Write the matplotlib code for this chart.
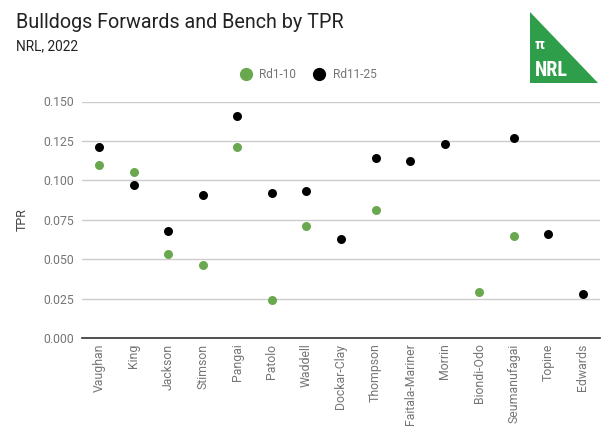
import matplotlib
matplotlib.use("Agg")
import matplotlib.pyplot as plt
import numpy as np
from matplotlib.patches import Polygon
from matplotlib.lines import Line2D

players = ["Vaughan", "King", "Jackson", "Stimson", "Pangai", "Patolo", "Waddell",
           "Dockar-Clay", "Thompson", "Faitala-Mariner", "Morrin", "Biondi-Odo",
           "Seumanufagai", "Topine", "Edwards"]
rd1_10 = [0.110, 0.105, 0.053, 0.046, 0.121, 0.024, 0.071,
          None, 0.081, None, None, 0.029, 0.065, None, None]
rd11_25 = [0.121, 0.097, 0.068, 0.091, 0.141, 0.092, 0.093,
           0.063, 0.114, 0.112, 0.123, None, 0.127, 0.066, 0.028]
series_names = ["Rd1-10", "Rd11-25"]
yticks = [0.0, 0.025, 0.05, 0.075, 0.1, 0.125, 0.15]

plt.rcParams['font.family'] = ['Roboto', 'DejaVu Sans']

W, H = 613, 438
fig = plt.figure(figsize=(W / 100, H / 100), dpi=100)
ax = fig.add_axes([82 / W, 1 - 338 / H, (600 - 82) / W, (338 - 101.5) / H])

x = np.arange(len(players))
g = np.array([np.nan if v is None else v for v in rd1_10], dtype=float)
b = np.array([np.nan if v is None else v for v in rd11_25], dtype=float)

green = "#6aa84f"
ax.scatter(x, g, s=42, color=green, zorder=3, label=series_names[0], linewidths=0)
ax.scatter(x, b, s=42, color="#000000", zorder=3, label=series_names[1], linewidths=0)

ax.set_xlim(-0.5, len(players) - 0.5)
ax.set_ylim(0, 0.15)
ax.set_yticks(yticks)
ax.set_yticklabels([f"{v:.3f}" for v in yticks])
ax.set_xticks(x)
ax.set_xticklabels(players, rotation=90)
ax.grid(axis='y', color="#cccccc", linewidth=1)
ax.set_axisbelow(True)
for s in ["top", "right", "left"]:
    ax.spines[s].set_visible(False)
ax.spines["bottom"].set_color("#333333")
ax.spines["bottom"].set_linewidth(1.2)
ax.tick_params(axis='both', length=0, colors="#757575", labelsize=8.8, pad=6)
ax.tick_params(axis='x', pad=4)
ax.set_ylabel("TPR", color="#444444", fontsize=9, labelpad=10)

renderer = fig.canvas.get_renderer()


def fitted_text(xpx, ypx, s, width_px, size0, **kw):
    t = fig.text(xpx / W, 1 - ypx / H, s, fontsize=size0, **kw)
    w = t.get_window_extent(renderer=renderer).width
    if w > 0:
        t.set_fontsize(size0 * width_px / w)
    return t


# title / subtitle
fitted_text(16, 22, "Bulldogs Forwards and Bench by TPR", 330, 14,
            color="#222222", va="center", ha="left")
fitted_text(16, 46, "NRL, 2022", 62, 10, color="#222222", va="center", ha="left")

# legend (manual placement)
leg_marker_x = [246, 319]
leg_text = [(259, 37), (333, 44)]
leg_colors = [green, "#000000"]
for mx, (tx, tw), c, name in zip(leg_marker_x, leg_text, leg_colors, series_names):
    fig.lines.append(Line2D([mx / W], [1 - 74 / H], transform=fig.transFigure,
                            marker="o", markersize=8.5, color=c, linestyle="none"))
    fitted_text(tx, 74.5, name, tw, 9, color="#757575", va="center", ha="left")

# logo
tri = Polygon([(530 / W, 1 - 12 / H), (530 / W, 1 - 83 / H), (598 / W, 1 - 83 / H)],
              closed=True, transform=fig.transFigure, facecolor="#2e9e4a",
              edgecolor="none")
fig.patches.append(tri)
fig.text(535 / W, 1 - 45 / H, "π", fontsize=11, color="white", fontweight="bold",
         va="center", ha="left")
fig.text(535 / W, 1 - 70 / H, "NRL", fontsize=14.5, color="white", fontweight="bold",
         va="center", ha="left", family=["Roboto Condensed", "Liberation Sans Narrow", "Roboto", "DejaVu Sans"])

fig.savefig("out.png", dpi=100)
